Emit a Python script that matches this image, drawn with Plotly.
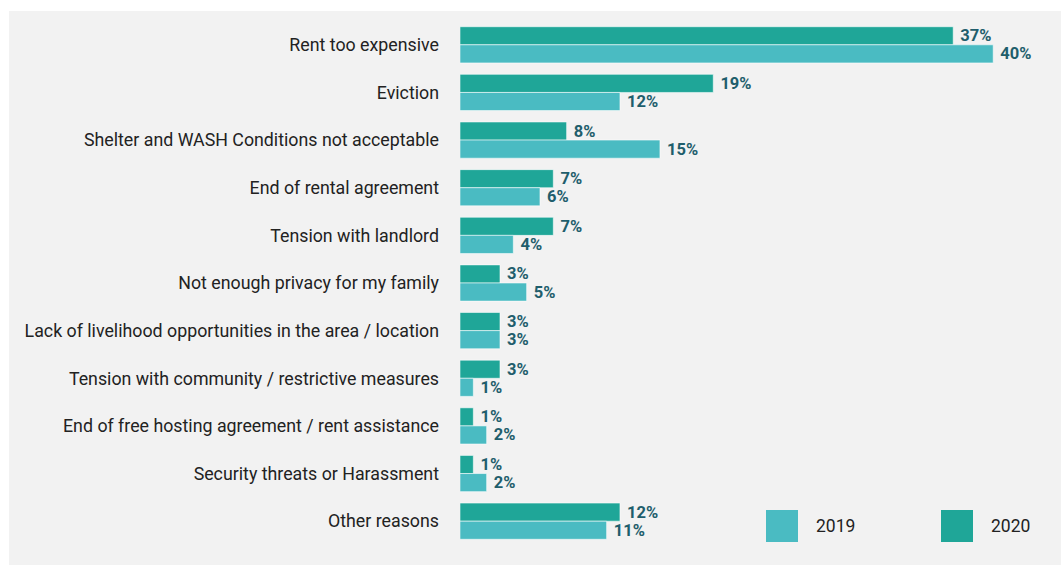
import plotly.graph_objects as go

categories = [
    "Rent too expensive",
    "Eviction",
    "Shelter and WASH Conditions not acceptable",
    "End of rental agreement",
    "Tension with landlord",
    "Not enough privacy for my family",
    "Lack of livelihood opportunities in the area / location",
    "Tension with community / restrictive measures",
    "End of free hosting agreement / rent assistance",
    "Security threats or Harassment",
    "Other reasons",
]
values_2020 = [37, 19, 8, 7, 7, 3, 3, 3, 1, 1, 12]
values_2019 = [40, 12, 15, 6, 4, 5, 3, 1, 2, 2, 11]

color_2020 = "#1fa698"
color_2019 = "#4abbc2"
label_color = "#1f5e6c"

W, H = 1061, 565
ML, MR, MT, MB = 460, 0, 21, 20
PW, PH = W - ML - MR, H - MT - MB


def px_x(x):
    return (x - ML) / PW


def px_y(y):
    return (H - MB - y) / PH


fig = go.Figure()
for name, vals, col in [("2020", values_2020, color_2020), ("2019", values_2019, color_2019)]:
    fig.add_trace(go.Bar(
        y=categories, x=vals, name=name, orientation="h",
        marker=dict(color=col, line=dict(color="rgba(255,255,255,0.55)", width=1)),
        text=[f"\u00a0{v}%" for v in vals], textposition="outside",
        constraintext="none", cliponaxis=False,
        textfont=dict(family="Roboto", size=16.5, color=label_color, weight="bold"),
        showlegend=False,
    ))

shapes = [
    dict(type="rect", xref="paper", yref="paper", layer="below",
         x0=px_x(9), x1=px_x(1070), y0=px_y(575), y1=px_y(11),
         fillcolor="#f2f2f2", line=dict(width=0)),
]
annotations = []
for name, col, sx in [("2019", color_2019, 766), ("2020", color_2020, 941)]:
    shapes.append(dict(type="rect", xref="paper", yref="paper",
                       x0=px_x(sx), x1=px_x(sx + 32), y0=px_y(542), y1=px_y(510),
                       fillcolor=col, line=dict(width=0)))
    annotations.append(dict(text=name, xref="paper", yref="paper",
                            x=px_x(sx + 48), y=px_y(526), xanchor="left", yanchor="middle",
                            showarrow=False,
                            font=dict(family="Roboto", size=17.5, color="#222222")))

fig.update_layout(
    width=W, height=H,
    margin=dict(l=ML, r=MR, t=MT, b=MB),
    paper_bgcolor="white", plot_bgcolor="rgba(0,0,0,0)",
    barmode="group", bargap=0.24, bargroupgap=0,
    xaxis=dict(range=[0, PW / 13.33], visible=False, fixedrange=True),
    yaxis=dict(autorange="reversed", showgrid=False, showline=False, zeroline=False,
               ticks="", ticklabelstandoff=20,
               tickfont=dict(family="Roboto", size=17.8, color="#222222")),
    shapes=shapes, annotations=annotations,
    font=dict(family="Roboto"),
)

fig.write_html("out.html", config={"displayModeBar": False},
               post_script="document.body.style.margin='0';document.body.style.overflow='hidden';")
